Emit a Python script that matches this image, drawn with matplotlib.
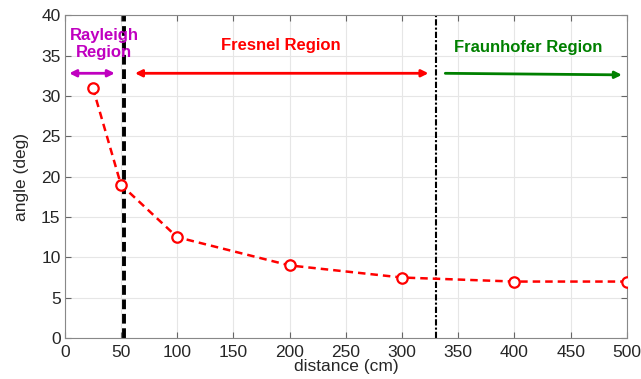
import matplotlib.pyplot as plt

distance = [25, 50, 100, 200, 300, 400, 500]
angle = [31, 19, 12.5, 9, 7.5, 7, 7]
rayleigh_limit = 53
fraunhofer_limit = 330

plt.rcParams['font.family'] = ['Liberation Sans', 'DejaVu Sans']

fig = plt.figure(figsize=(6.41, 3.79), dpi=100)
ax = fig.add_axes([0.101, 0.108, 0.877, 0.852])

ax.plot(distance, angle, color='red', ls=(0, (3, 2)), lw=1.8, marker='o', ms=7.5,
        mfc='white', mec='red', mew=1.6, zorder=3)

ax.axvline(rayleigh_limit, color='black', ls=(0, (2.5, 1.2)), lw=2.8, zorder=2)
ax.axvline(fraunhofer_limit, color='black', ls=(0, (3, 1, 1, 1)), lw=1.5, zorder=2)

# region arrows
ax.annotate('', xy=(47, 32.8), xytext=(1.5, 32.8),
            arrowprops=dict(arrowstyle='<|-|>', color='#c000c0', lw=2, mutation_scale=10))
ax.annotate('', xy=(326, 32.8), xytext=(60, 32.8),
            arrowprops=dict(arrowstyle='<|-|>', color='red', lw=2, mutation_scale=10))
ax.annotate('', xy=(498, 32.6), xytext=(336, 32.8),
            arrowprops=dict(arrowstyle='-|>', color='green', lw=2, mutation_scale=10))

ax.text(35, 36.4, 'Rayleigh\nRegion', color='#c000c0', fontsize=12, fontweight='bold',
        ha='center', va='center', linespacing=1.15)
ax.text(192, 36.2, 'Fresnel Region', color='red', fontsize=12, fontweight='bold',
        ha='center', va='center')
ax.text(412, 36.0, 'Fraunhofer Region', color='green', fontsize=12, fontweight='bold',
        ha='center', va='center')

ax.set_xlim(0, 500)
ax.set_ylim(0, 40)
ax.set_xticks(range(0, 501, 50))
ax.set_yticks(range(0, 41, 5))
ax.grid(True, color='#e6e6e6', lw=0.8)
ax.set_axisbelow(True)
ax.tick_params(direction='in', top=True, right=True, labelsize=12.5, labelcolor='#262626',
               color='#666666', length=4, pad=3)
ax.tick_params(axis='x', pad=5)
for s in ax.spines.values():
    s.set_color('#888888')
ax.set_xlabel('distance (cm)', fontsize=12.5, labelpad=-1, color='#262626')
ax.set_ylabel('angle (deg)', fontsize=12.5, labelpad=9, color='#262626')

fig.savefig('out.png', dpi=100)
